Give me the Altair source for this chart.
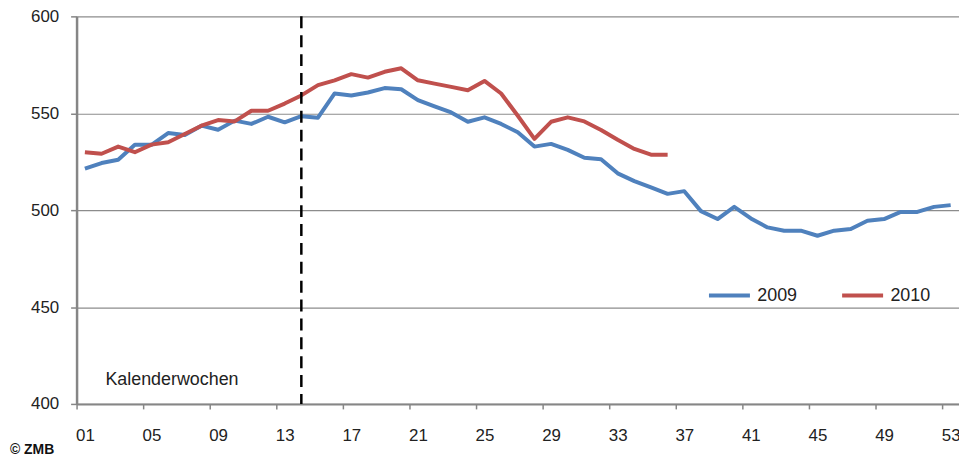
import altair as alt
import pandas as pd

weeks_2009 = list(range(1, 54))
v2009 = [521.4, 524.3, 526.0, 533.7, 533.7, 539.8, 538.8, 543.6, 541.5, 546.2,
         544.5, 548.2, 545.3, 548.5, 547.7, 560.2, 559.2, 560.7, 563.0, 562.4,
         556.8, 553.5, 550.4, 545.6, 547.9, 544.5, 540.2, 532.8, 534.2, 531.1,
         527.0, 526.3, 519.0, 515.0, 511.7, 508.4, 509.8, 499.5, 495.4, 501.7,
         495.7, 491.1, 489.4, 489.4, 486.8, 489.4, 490.3, 494.5, 495.4, 499.1,
         499.1, 501.7, 502.6]
weeks_2010 = list(range(1, 37))
v2010 = [529.9, 529.1, 532.8, 529.9, 533.8, 535.0, 539.3, 543.6, 546.5, 545.8,
         551.3, 551.3, 555.0, 559.2, 564.5, 567.0, 570.2, 568.4, 571.4, 573.2,
         567.0, 565.3, 563.6, 561.9, 566.7, 560.2, 548.7, 536.8, 545.6, 547.9,
         545.8, 541.4, 536.3, 531.6, 528.6, 528.6]
series_names = ["2009", "2010"]
series_colors = ["#4F81BD", "#C0504D"]
y_ticks = [400, 450, 500, 550, 600]
label_weeks = [1, 5, 9, 13, 17, 21, 25, 29, 33, 37, 41, 45, 49, 53]
marker_week = [14]

df = pd.DataFrame(
    {"week": weeks_2009 + weeks_2010,
     "value": v2009 + v2010,
     "year": ["2009"] * len(v2009) + ["2010"] * len(v2010)}
)

W, H = 888, 390
FONT = "Liberation Sans"
cat_w = W / 53.0

label_set = ",".join(str(w) for w in label_weeks)
label_expr = (
    "indexof([" + label_set + "], datum.value + 0.5) >= 0 ? "
    "((datum.value + 0.5) < 10 ? '0' + (datum.value + 0.5) : '' + (datum.value + 0.5)) : ''"
)

x_scale = alt.Scale(domain=[0.5, 53.5], nice=False, zero=False)
y_scale = alt.Scale(domain=[400, 600], nice=False, zero=False)

x_axis = alt.Axis(
    values=[k + 0.5 for k in range(54)],
    labelExpr=label_expr,
    labelOffset=cat_w / 2,
    labelOverlap=False,
    labelFont=FONT, labelFontSize=17, labelColor="#222222",
    labelPadding=19, labelFlush=False, labelBound=False,
    tickSize=5, tickColor="#868686", tickWidth=1.5,
    domainColor="#868686", domainWidth=2,
    grid=False, title=None,
)
y_axis = alt.Axis(
    values=y_ticks,
    labelFont=FONT, labelFontSize=17, labelColor="#222222",
    labelPadding=12, tickSize=6, tickColor="#868686", tickWidth=1.5,
    domainColor="#868686", domainWidth=2.5,
    grid=True, gridColor="#8c8c8c", gridWidth=1.2,
    title=None,
)

lines = alt.Chart(df).mark_line(strokeWidth=4, strokeJoin="round", strokeCap="butt").encode(
    x=alt.X("week:Q", scale=x_scale, axis=x_axis),
    y=alt.Y("value:Q", scale=y_scale, axis=y_axis),
    color=alt.Color(
        "year:N",
        scale=alt.Scale(domain=series_names, range=series_colors),
        legend=alt.Legend(
            orient="none", legendX=634, legendY=258, direction="horizontal",
            title=None, symbolType="stroke", symbolSize=1700, symbolStrokeWidth=4,
            labelFont=FONT, labelFontSize=18, labelColor="#222222", labelOffset=5,
            columnPadding=36, padding=0,
        ),
    ),
)

rule = alt.Chart(pd.DataFrame({"week": marker_week})).mark_rule(
    color="black", strokeWidth=2.5, strokeDash=[12, 7]
).encode(x=alt.X("week:Q", scale=x_scale))

kw_text = alt.Chart(pd.DataFrame({"t": ["Kalenderwochen"]})).mark_text(
    align="left", baseline="middle", font=FONT, fontSize=18, color="#222222"
).encode(text="t:N", x=alt.value(29), y=alt.value(366))

zmb_text = alt.Chart(pd.DataFrame({"t": ["© ZMB"]})).mark_text(
    align="left", baseline="middle", font=FONT, fontSize=14, fontWeight="bold", color="#111111"
).encode(text="t:N", x=alt.value(-67), y=alt.value(436))

chart = alt.layer(lines, rule, kw_text, zmb_text).properties(
    width=W, height=H,
    autosize=alt.AutoSizeParams(type="none"),
    padding={"left": 69, "top": 7, "right": 0, "bottom": 54},
).configure_view(stroke=None)

chart.save("out.html", embed_options={"renderer": "svg", "actions": False})
